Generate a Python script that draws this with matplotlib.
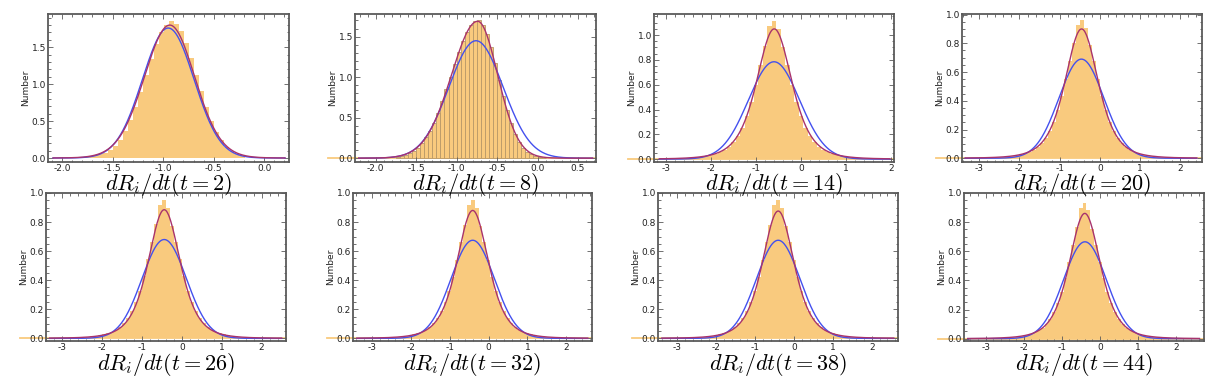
import numpy as np
import matplotlib.pyplot as plt
from matplotlib.ticker import MultipleLocator

plt.rcParams['mathtext.fontset'] = 'cm'
plt.rcParams['axes.unicode_minus'] = False

# time step shown in each panel
times = [2, 8, 14, 20, 26, 32, 38, 44]

# histogram bar heights, left to right
hist_t2 = [0.014, 0.022, 0.035, 0.05, 0.07, 0.11, 0.165, 0.25, 0.36, 0.51, 0.69, 0.90, 1.12, 1.34, 1.54, 1.70,
           1.80, 1.85, 1.82, 1.72, 1.56, 1.36, 1.13, 0.91, 0.69, 0.50, 0.35, 0.24, 0.15, 0.09, 0.05, 0.03]
hist_t8 = [0.017, 0.027, 0.04, 0.06, 0.09, 0.13, 0.19, 0.26, 0.34, 0.44, 0.56, 0.70, 0.85, 1.00, 1.16, 1.31,
           1.45, 1.56, 1.64, 1.69, 1.71, 1.64, 1.53, 1.37, 1.17, 0.97, 0.77, 0.59, 0.43, 0.30, 0.20, 0.13,
           0.08, 0.05, 0.03, 0.015, 0.008]
hist_t14 = [0.009, 0.012, 0.015, 0.019, 0.024, 0.032, 0.041, 0.055, 0.074, 0.100, 0.136, 0.186, 0.253, 0.344,
            0.460, 0.601, 0.756, 0.915, 1.075, 1.11, 1.05, 0.905, 0.756, 0.601, 0.460, 0.344, 0.253, 0.186,
            0.136, 0.100, 0.074, 0.055, 0.041, 0.032, 0.024, 0.019, 0.015, 0.012, 0.009, 0.007]
hist_t20 = [0.009, 0.011, 0.013, 0.017, 0.021, 0.027, 0.035, 0.046, 0.060, 0.080, 0.106, 0.141, 0.189, 0.253,
            0.334, 0.435, 0.552, 0.676, 0.80, 0.93, 0.965, 0.91, 0.79, 0.676, 0.552, 0.435, 0.334, 0.253,
            0.189, 0.141, 0.106, 0.080, 0.060, 0.046, 0.035, 0.027, 0.021, 0.017, 0.013, 0.011]
hist_t26 = [0.008, 0.011, 0.013, 0.017, 0.021, 0.027, 0.035, 0.045, 0.059, 0.078, 0.104, 0.139, 0.186, 0.249,
            0.328, 0.427, 0.543, 0.665, 0.786, 0.92, 0.95, 0.90, 0.776, 0.665, 0.543, 0.427, 0.328, 0.249,
            0.186, 0.139, 0.104, 0.078, 0.059, 0.045, 0.035, 0.027, 0.021, 0.017, 0.013, 0.011]
hist_t32 = [0.008, 0.010, 0.013, 0.016, 0.021, 0.027, 0.035, 0.045, 0.059, 0.078, 0.104, 0.138, 0.185, 0.247,
            0.326, 0.425, 0.539, 0.661, 0.782, 0.92, 0.95, 0.90, 0.772, 0.661, 0.539, 0.425, 0.326, 0.247,
            0.185, 0.138, 0.104, 0.078, 0.059, 0.045, 0.035, 0.027, 0.021, 0.016, 0.013, 0.010]
hist_t38 = [0.008, 0.010, 0.013, 0.016, 0.021, 0.027, 0.035, 0.045, 0.059, 0.078, 0.104, 0.138, 0.185, 0.247,
            0.326, 0.425, 0.539, 0.661, 0.780, 0.92, 0.95, 0.90, 0.770, 0.661, 0.539, 0.425, 0.326, 0.247,
            0.185, 0.138, 0.104, 0.078, 0.059, 0.045, 0.035, 0.027, 0.021, 0.016, 0.013, 0.010]
hist_t44 = [0.008, 0.010, 0.013, 0.016, 0.020, 0.026, 0.034, 0.044, 0.058, 0.076, 0.101, 0.135, 0.181, 0.242,
            0.319, 0.415, 0.527, 0.646, 0.764, 0.90, 0.93, 0.88, 0.754, 0.646, 0.527, 0.415, 0.319, 0.242,
            0.181, 0.135, 0.101, 0.076, 0.058, 0.044, 0.034, 0.026, 0.020, 0.016, 0.013, 0.010]
hists = [hist_t2, hist_t8, hist_t14, hist_t20, hist_t26, hist_t32, hist_t38, hist_t44]
hist_start = [-1.795, -1.75, -2.55, -2.50, -2.49, -2.46, -2.46, -2.45]
hist_width = [0.05, 0.05, 0.1, 0.1, 0.1, 0.1, 0.1, 0.1]

# gaussian fit (blue)
blue_amp = [1.76, 1.45, 0.785, 0.69, 0.68, 0.675, 0.675, 0.665]
blue_mu = [-0.95, -0.76, -0.60, -0.46, -0.44, -0.41, -0.41, -0.39]
blue_sigma = [0.255, 0.335, 0.57, 0.56, 0.555, 0.56, 0.56, 0.565]

# heavy-tailed fit (red)
red_amp = [1.80, 1.69, 1.05, 0.90, 0.885, 0.88, 0.876, 0.86]
red_mu = [-0.935, -0.74, -0.595, -0.455, -0.44, -0.41, -0.41, -0.395]
red_s_left = [0.255, 0.326, 0.41, 0.43, 0.42, 0.425, 0.425, 0.43]
red_s_right = [0.25, 0.25, 0.41, 0.43, 0.42, 0.425, 0.425, 0.43]
red_nu = [30, 50, 4, 4, 4, 4, 4, 4]

# data span of the curves and frame limits
curve_span = [(-2.09, 0.205), (-2.21, 0.68), (-3.15, 1.98), (-3.35, 2.41),
              (-3.31, 2.50), (-3.39, 2.55), (-3.40, 2.56), (-3.47, 2.62)]
x_lims = [(-2.14, 0.245), (-2.256, 0.723), (-3.27, 2.07), (-3.43, 2.54),
          (-3.40, 2.61), (-3.49, 2.66), (-3.50, 2.67), (-3.57, 2.74)]
y_lims = [(-0.054, 1.95), (-0.047, 1.78), (-0.023, 1.17), (-0.026, 1.004),
          (-0.018, 1.0), (-0.018, 1.0), (-0.018, 1.0), (-0.016, 0.975)]

# axes frames in pixels (left, right), rows (top, bottom)
W, H = 1218, 390
cols_px = [(48, 289), (355, 596), (654, 894), (962, 1202),
           (46, 286), (353, 592), (658, 898), (964, 1204)]
rows_px = [(14, 162)] * 4 + [(193, 341)] * 4
title_px = [185] * 4 + [365] * 4

hist_color = '#F9CA7E'
blue_color = '#4450EE'
red_color = '#A8336C'
frame_color = '#5a5a5a'

fig = plt.figure(figsize=(W / 100, H / 100), dpi=100)

for i in range(8):
    l, r = cols_px[i]
    t, b = rows_px[i]
    ax = fig.add_axes([l / W, 1 - b / H, (r - l) / W, (b - t) / H])

    heights = np.array(hists[i])
    edges = hist_start[i] + hist_width[i] * np.arange(len(heights) + 1)
    if i == 1:
        ax.bar(edges[:-1], heights, width=hist_width[i], align='edge', color=hist_color,
               edgecolor='#b89868', linewidth=0.6, zorder=1)
    else:
        ax.bar(edges[:-1], heights, width=hist_width[i], align='edge', color=hist_color,
               linewidth=0, zorder=1)
    if i > 0:
        ax.axhline(0, xmin=-0.11, xmax=1, color=hist_color, lw=1.3, clip_on=False, zorder=0.5)

    xs = np.linspace(curve_span[i][0], curve_span[i][1], 600)
    blue = blue_amp[i] * np.exp(-(xs - blue_mu[i]) ** 2 / (2 * blue_sigma[i] ** 2))
    d = xs - red_mu[i]
    s = np.where(d < 0, red_s_left[i], red_s_right[i])
    nu = red_nu[i]
    red = red_amp[i] * (1 + (d / s) ** 2 / nu) ** (-(nu + 1) / 2)
    ax.plot(xs, blue, color=blue_color, lw=1.0, zorder=3)
    ax.plot(xs, red, color=red_color, lw=1.0, zorder=4)

    ax.set_xlim(*x_lims[i])
    ax.set_ylim(*y_lims[i])
    if i < 2:
        ax.set_xticks(np.arange(-2.0, 0.6 if i == 1 else 0.1, 0.5))
        ax.set_yticks([0.0, 0.5, 1.0, 1.5])
        ax.xaxis.set_minor_locator(MultipleLocator(0.1))
        ax.yaxis.set_minor_locator(MultipleLocator(0.1))
        ax.xaxis.set_major_formatter('{x:.1f}')
    else:
        ax.set_xticks([-3, -2, -1, 0, 1, 2])
        ax.set_yticks([0.0, 0.2, 0.4, 0.6, 0.8, 1.0])
        ax.xaxis.set_minor_locator(MultipleLocator(0.2))
        ax.yaxis.set_minor_locator(MultipleLocator(0.05))
    ax.yaxis.set_major_formatter('{x:.1f}')

    ax.tick_params(which='both', direction='in', top=True, right=True,
                   color=frame_color, width=0.6, labelsize=6.5, labelcolor='#222222', pad=1.5)
    ax.tick_params(which='major', length=3.5)
    ax.tick_params(which='minor', length=1.8)
    for sp in ax.spines.values():
        sp.set_color(frame_color)
        sp.set_linewidth(1.3)

    ax.set_ylabel('Number', fontsize=6.5, color='#222222')
    ax.yaxis.set_label_coords(-0.075, 0.5)

    fig.text((l + r) / 2 / W, 1 - title_px[i] / H, r'$dR_i/dt(t=%d)$' % times[i],
             fontsize=16, ha='center', va='center')

fig.savefig('out.png', dpi=100)
